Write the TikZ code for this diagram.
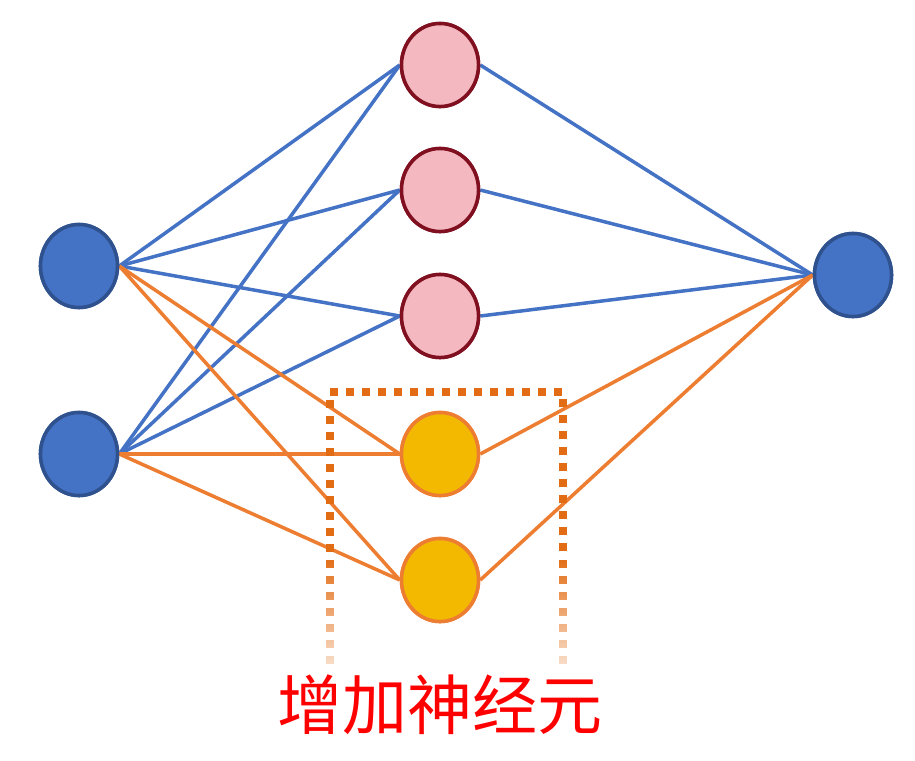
\documentclass[tikz,border=0pt]{standalone}
\usepackage{fontspec}
\newfontfamily\cjk{Noto Sans CJK SC}
\usetikzlibrary{shapes.geometric, fadings}
\definecolor{nblue}{RGB}{68,114,196}
\definecolor{nbluedk}{RGB}{47,82,143}
\definecolor{npink}{RGB}{244,184,192}
\definecolor{nred}{RGB}{128,16,32}
\definecolor{nyellow}{RGB}{242,185,0}
\definecolor{norange}{RGB}{237,125,49}
\definecolor{boxorange}{RGB}{226,108,20}

\tikzfading[name=fade down, top color=transparent!0, bottom color=transparent!85]

\begin{document}
\begin{tikzpicture}[x=0.01cm, y=-0.01cm,
  node/.style={ellipse,line width=0.035cm,minimum width=0.77cm,minimum height=0.83cm,inner sep=0pt},
  innode/.style={node,draw=nbluedk,fill=nblue},
  oldnode/.style={node,draw=nred,fill=npink},
  newnode/.style={node,draw=norange,fill=nyellow},
  arr/.style={nblue,line width=0.035cm},
  newarr/.style={norange,line width=0.035cm},
  dotbox/.style={boxorange,line width=0.08cm,dash pattern=on 0.08cm off 0.08cm}
]
\useasboundingbox (0,0) rectangle (915,760);

% layers
\node[innode]  (I1) at (79,266) {};
\node[innode]  (I2) at (79,454) {};
\node[oldnode] (H1) at (440,65) {};
\node[oldnode] (H2) at (440,190) {};
\node[oldnode] (H3) at (440,316) {};
\node[newnode] (N1) at (440,454) {};
\node[newnode] (N2) at (440,580) {};
\node[innode]  (O)  at (853,275) {};

% old connections
\foreach \i in {I1,I2} {
  \foreach \h in {H1,H2,H3} {
    \draw[arr] (\i.east) -- (\h.west);
  }
}
\foreach \h in {H1,H2,H3} {
  \draw[arr] (\h.east) -- (O.west);
}

% new connections
\foreach \i in {I1,I2} {
  \foreach \n in {N1,N2} {
    \draw[newarr] (\i.east) -- (\n.west);
  }
}
\foreach \n in {N1,N2} {
  \draw[newarr] (\n.east) -- (O.west);
}

% box round the new neurons, fading out at the bottom
\draw[dotbox] (330,552) -- (330,392) -- (563,392) -- (563,552);
\draw[dotbox, path fading=fade down] (330,560) -- (330,672);
\draw[dotbox, path fading=fade down] (563,560) -- (563,672);

% redraw nodes on top
\foreach \n/\s in {I1/innode,I2/innode,H1/oldnode,H2/oldnode,H3/oldnode,N1/newnode,N2/newnode,O/innode} {
  \node[\s] at (\n) {};
}

\node[text=red, font=\cjk\fontsize{18.5pt}{20pt}\selectfont] (lbl) at (440,705) {增加神经元};
\end{tikzpicture}
\end{document}
